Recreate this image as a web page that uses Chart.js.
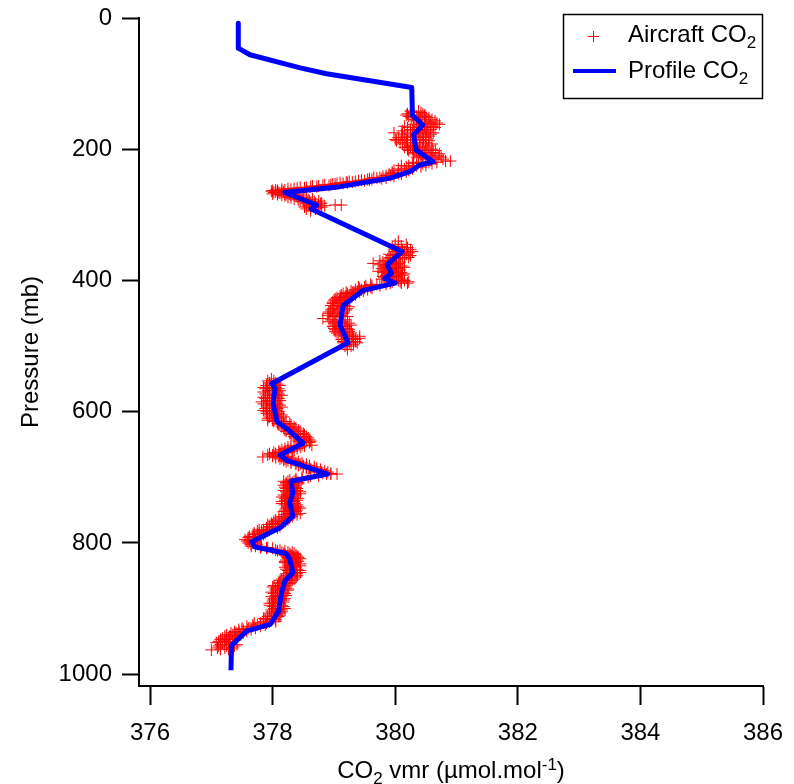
<!DOCTYPE html>
<html>
<head>
<meta charset="utf-8">
<script src="https://cdn.jsdelivr.net/npm/chart.js@4/dist/chart.umd.min.js"></script>
<style>
  html, body { margin: 0; padding: 0; background: #fff; }
</style>
</head>
<body>
<canvas id="co2chart" width="794" height="784"></canvas>
<script>
// retrieved profile: pressure (mb) and CO2 (umol/mol)
const profileP = [8, 46, 56, 76, 85, 95, 106, 148, 163, 178,
    201, 219, 224, 234, 244, 257, 266, 285, 291, 356,
    376, 389, 397, 404, 415, 438, 468, 495, 557, 564,
    587, 615, 628, 648, 666, 674, 695, 706, 724, 739,
    759, 777, 798, 806, 816, 825, 845, 858, 878, 904,
    924, 934, 956, 994];
const profileCO2 = [377.44, 377.44, 377.63, 378.45, 378.88, 379.54, 380.27, 380.28, 380.45, 380.30,
    380.34, 380.62, 380.40, 380.24, 379.92, 379.10, 378.20, 378.72, 378.63, 380.11,
    379.87, 379.94, 379.83, 380.00, 379.48, 379.15, 379.10, 379.23, 377.99, 378.04,
    378.01, 378.07, 378.26, 378.50, 378.12, 378.23, 378.90, 378.30, 378.33, 378.28,
    378.33, 378.12, 377.66, 377.71, 378.22, 378.28, 378.33, 378.20, 378.14, 378.10,
    377.96, 377.58, 377.33, 377.32];

// aircraft samples (first leg), grouped by pressure level (mb)
const ascentP = [142, 146, 150, 155, 160, 165, 170, 175, 180, 185,
    190, 195, 200, 205, 210, 215, 218, 220, 225, 230,
    235, 238, 241, 244, 246, 248, 250, 252, 254, 256,
    258, 260, 262, 264, 266, 268, 270, 273, 276, 279,
    282, 285, 288, 291, 294,
    340, 345, 350, 356, 360, 365, 370, 374, 378, 382,
    386, 390, 394, 398, 402, 406, 410, 414, 418, 422,
    426, 430, 435, 440, 445, 450, 455, 458, 460, 465,
    470, 475, 480, 485, 490, 495, 500, 505,
    550, 556, 560, 565, 570, 575, 580, 585, 590, 595,
    600, 605, 610, 615, 620, 625, 630, 635, 640, 645,
    651, 652, 656, 660, 664, 668, 669, 672, 676, 680,
    684, 688, 692, 695, 698, 702, 706, 710, 715, 720,
    725, 730, 735, 740, 745, 750, 755, 760, 765, 770,
    775, 780, 785, 790, 795, 800, 805, 808, 811, 814,
    818, 822, 826, 830, 835, 840, 845, 850, 855, 860,
    865, 870, 875, 880, 885, 890, 895, 900, 905, 910,
    915, 920, 925, 930, 935, 940, 945, 948, 950, 955,
    960, 963];
const ascentCO2 = [
    [380.25, 380.38], [380.20, 380.45], [380.35, 380.50, 380.22], [380.42, 380.60, 380.30],
    [380.48, 380.55, 380.68, 380.38], [380.40, 380.62, 380.52, 380.15], [380.32, 380.45, 380.58, 380.25],
    [380.20, 380.38, 380.50, 380.62, 379.98], [380.15, 380.28, 380.42, 380.55], [380.12, 380.30, 380.46, 380.00],
    [380.18, 380.35, 380.50, 380.08], [380.25, 380.40, 380.30, 380.55], [380.28, 380.45, 380.20, 380.60],
    [380.32, 380.48, 380.62, 380.40], [380.38, 380.55, 380.70, 380.45], [380.50, 380.65, 380.78, 380.58],
    [380.82, 380.90], [380.55, 380.68, 380.42, 380.30], [380.35, 380.50, 380.22, 380.10],
    [380.15, 380.28, 380.05], [380.05, 379.95, 380.18],
    [379.90, 380.10], [379.80, 379.98], [379.70, 379.85], [379.55, 379.62], [379.40, 379.50],
    [379.30, 379.20], [379.05, 379.15], [378.95, 378.85], [378.75, 378.65],
    [378.55, 378.45], [378.35, 378.25], [378.20, 378.05], [377.98, 378.15, 378.08], [378.02, 378.10, 378.25],
    [378.00, 378.20, 378.35], [378.15, 378.30, 378.45], [378.25, 378.40, 378.55], [378.35, 378.50, 378.65],
    [378.45, 378.60, 378.75],
    [378.55, 378.70, 378.80], [378.60, 378.75, 379.02, 379.12], [378.52, 378.68, 378.80], [378.55, 378.70],
    [378.62],
    [380.05], [380.00, 380.18], [380.05, 380.20], [380.15, 380.28, 379.98], [380.02, 380.18, 379.90],
    [379.92, 380.08, 380.22], [379.85, 380.00, 379.75], [379.64, 379.90, 380.05], [379.82, 379.98, 380.12],
    [379.78, 379.92, 380.05],
    [379.85, 380.00, 379.72], [379.88, 380.05, 380.15], [379.90, 380.02, 379.80], [379.78, 379.92, 380.10],
    [379.95, 380.08, 380.22], [379.85, 379.70, 379.60], [379.60, 379.50, 379.40], [379.45, 379.35, 379.55],
    [379.30, 379.42, 379.20], [379.25, 379.12, 379.35],
    [379.18, 379.05, 379.28], [379.10, 379.22, 379.00], [379.05, 379.15, 378.98], [379.12, 379.00, 379.25],
    [379.08, 378.95, 379.20], [379.02, 379.15, 378.92], [378.98, 379.10, 379.22], [378.82],
    [379.05, 379.18, 378.95], [379.00, 379.12, 379.25],
    [379.08, 379.20, 378.98], [379.10, 379.25, 379.02], [379.15, 379.28, 379.05], [379.18, 379.30, 379.42],
    [379.22, 379.35, 379.12], [379.25, 379.38, 379.15], [379.18, 379.28], [379.22],
    [377.98], [377.95, 378.05], [377.90, 378.02, 378.12], [377.88, 378.00, 378.10], [377.95, 378.08, 377.85],
    [377.92, 378.05, 378.15], [377.88, 377.98, 378.10], [377.95, 378.05, 377.82], [377.90, 378.02, 378.12],
    [377.95, 378.08, 377.88],
    [377.98, 378.10, 377.90], [377.95, 378.05, 378.15], [378.00, 378.12, 377.92], [378.02, 378.15, 378.22],
    [378.10, 378.20, 378.30], [378.18, 378.28, 378.38], [378.22, 378.35, 378.45], [378.30, 378.42, 378.52],
    [378.38, 378.50, 378.58], [378.42, 378.55, 378.62],
    [378.64, 378.48], [378.40, 378.30, 378.52], [378.30, 378.20, 378.40], [378.20, 378.10, 378.32],
    [378.05, 377.95, 378.18], [378.10, 378.22, 378.00], [377.84], [378.20, 378.32, 378.12],
    [378.30, 378.42, 378.22], [378.45, 378.55, 378.38],
    [378.55, 378.68, 378.50], [378.68, 378.78, 378.62], [378.80, 378.90, 378.72], [378.88, 379.05, 378.95],
    [378.75, 378.62], [378.48, 378.38], [378.25, 378.35, 378.18], [378.22, 378.35, 378.42],
    [378.25, 378.38, 378.20], [378.28, 378.40, 378.18],
    [378.25, 378.38, 378.45], [378.22, 378.32, 378.15], [378.20, 378.30, 378.40], [378.22, 378.35, 378.15],
    [378.25, 378.38, 378.42], [378.28, 378.40, 378.20], [378.25, 378.35, 378.45], [378.22, 378.32, 378.15],
    [378.15, 378.25, 378.05], [378.05, 378.15, 377.98],
    [377.95, 378.05, 378.12], [377.85, 377.95, 377.78], [377.78, 377.88, 377.70], [377.70, 377.80, 377.62],
    [377.62, 377.72, 377.55], [377.60, 377.70, 377.68], [377.72, 377.82, 377.65], [377.90, 378.00],
    [378.05, 378.12], [378.15, 378.25, 378.32],
    [378.20, 378.30, 378.38], [378.25, 378.35, 378.42], [378.22, 378.30, 378.40], [378.28, 378.38, 378.20],
    [378.25, 378.35, 378.45], [378.30, 378.40, 378.22], [378.28, 378.38, 378.45], [378.22, 378.32, 378.40],
    [378.15, 378.25, 378.35], [378.12, 378.22, 378.30],
    [378.10, 378.20, 378.02], [378.05, 378.15, 378.25], [378.08, 378.18, 377.98], [378.05, 378.15, 378.22],
    [378.02, 378.12, 378.20], [378.00, 378.10, 378.18], [378.05, 378.15, 377.95], [378.02, 378.12, 378.20],
    [377.98, 378.08, 378.15], [377.95, 378.05, 378.12],
    [377.92, 378.02, 377.85], [377.85, 377.95, 378.05], [377.75, 377.88, 377.68], [377.60, 377.72, 377.50],
    [377.45, 377.58, 377.38], [377.35, 377.48, 377.25], [377.28, 377.40, 377.18], [377.22],
    [377.22, 377.35, 377.12], [377.15, 377.30, 377.42],
    [377.10, 377.22, 377.35], [377.00]
];

// aircraft samples (second leg)
const descentP = [144, 148, 152, 157, 162, 167, 172, 177, 182, 187,
    192, 197, 202, 207, 212, 222, 227, 232,
    237, 240, 243, 245, 247, 249, 251, 253, 255, 257,
    259, 261, 263, 265, 267, 269, 271, 274, 277, 280,
    283, 286, 289,
    348, 353, 358, 362, 367, 372, 376, 380, 384, 388,
    392, 396, 400, 404, 408, 412, 416, 420, 424, 428,
    433, 438, 443, 448, 453, 463, 468, 473, 478, 483,
    488, 493, 498,
    553, 558, 563, 568, 573, 578, 583, 588, 593, 598,
    603, 608, 613, 618, 623, 628, 633, 638, 643, 647,
    654, 658, 662, 666, 670, 674, 678, 682, 686, 690,
    694, 700, 704, 708, 712, 717, 722, 727, 732, 737,
    742, 747, 752, 757, 762, 767, 772, 777, 782, 787,
    792, 797, 802, 807, 812, 816, 820, 824, 828, 832,
    837, 842, 847, 852, 857, 862, 867, 872, 877, 882,
    887, 892, 897, 902, 907, 912, 917, 922, 927, 932,
    937, 942, 947, 952, 957, 962];
const descentCO2 = [
    [380.30, 380.42], [380.28, 380.48, 380.18], [380.40, 380.55, 380.26], [380.35, 380.50, 380.65],
    [380.42, 380.58, 380.72, 380.30], [380.35, 380.48, 380.65, 380.20], [380.28, 380.40, 380.52, 380.12],
    [380.10, 380.25, 380.45, 380.58], [380.05, 380.20, 380.35, 380.50], [380.02, 380.18, 380.40, 380.55],
    [380.12, 380.28, 380.45, 380.60], [380.20, 380.35, 380.50, 380.15], [380.22, 380.38, 380.52, 380.66],
    [380.30, 380.42, 380.58, 380.72], [380.45, 380.60, 380.75, 380.35], [380.45, 380.60, 380.28],
    [380.30, 380.42, 380.18], [380.10, 380.22, 379.98],
    [379.95, 380.05], [379.85, 379.92], [379.75, 379.65], [379.58, 379.78], [379.45, 379.58],
    [379.35, 379.25], [379.10, 379.22], [378.98, 379.02], [378.82, 378.92], [378.62, 378.72],
    [378.40, 378.52], [378.30, 378.15], [378.08, 378.00], [378.05, 378.18], [378.12, 378.28],
    [378.08, 378.22], [378.20, 378.38], [378.30, 378.48], [378.42, 378.58], [378.50, 378.68],
    [378.62, 378.78], [378.58, 378.85], [378.62, 378.75],
    [380.10, 379.95], [380.12, 380.25, 380.00], [380.08, 380.22], [379.95, 380.12, 380.25],
    [379.88, 380.02, 380.15], [379.80, 379.95, 380.08], [379.75, 379.88, 380.02], [379.85, 380.00, 380.15],
    [379.82, 379.95, 380.08], [379.80, 379.95, 380.10],
    [379.85, 379.98, 380.12], [379.82, 379.95, 380.05], [379.90, 380.05, 380.15], [379.92, 380.10, 380.20],
    [379.75, 379.62, 379.52], [379.50, 379.42, 379.62], [379.38, 379.28, 379.48], [379.22, 379.32, 379.15],
    [379.20, 379.10, 379.30], [379.12, 379.02, 379.25],
    [379.08, 378.98, 379.18], [379.05, 379.18, 378.95], [379.10, 378.98, 379.22], [379.05, 378.92, 379.15],
    [379.00, 379.12, 378.90], [379.02, 379.15, 378.92], [379.05, 379.18, 379.28], [379.10, 379.22, 379.00],
    [379.12, 379.25, 379.02], [379.18, 379.30, 379.08],
    [379.20, 379.32, 379.42], [379.25, 379.35, 379.15], [379.20, 379.32],
    [377.92, 378.02], [377.98, 378.08], [377.95, 378.05, 377.85], [377.92, 378.02, 378.12],
    [377.88, 378.00, 378.10], [377.95, 378.08, 377.85], [377.92, 378.02, 378.12], [377.85, 377.98, 378.08],
    [377.92, 378.05, 378.15], [377.95, 378.05, 377.85],
    [377.98, 378.10, 377.90], [377.95, 378.08, 378.18], [378.00, 378.10, 377.92], [378.08, 378.18, 378.28],
    [378.15, 378.25, 378.35], [378.20, 378.32, 378.42], [378.28, 378.40, 378.50], [378.35, 378.45, 378.55],
    [378.42, 378.52, 378.60], [378.50, 378.60],
    [378.35, 378.25, 378.45], [378.25, 378.15, 378.35], [378.12, 378.02, 378.25], [378.00, 378.12, 377.92],
    [378.15, 378.25, 378.05], [378.25, 378.35, 378.18], [378.38, 378.48, 378.30], [378.50, 378.60, 378.42],
    [378.60, 378.72, 378.55], [378.72, 378.85, 378.68],
    [378.82, 378.95], [378.58, 378.48], [378.38, 378.28], [378.22, 378.32, 378.42], [378.25, 378.38, 378.18],
    [378.28, 378.40, 378.22], [378.22, 378.35, 378.45], [378.25, 378.38, 378.18], [378.20, 378.30, 378.42],
    [378.25, 378.35, 378.15],
    [378.28, 378.40, 378.20], [378.22, 378.35, 378.45], [378.25, 378.38, 378.18], [378.28, 378.40, 378.20],
    [378.18, 378.28, 378.10], [378.10, 378.20, 378.02], [378.00, 378.10, 377.92], [377.90, 378.00, 378.08],
    [377.82, 377.92, 377.75], [377.75, 377.85, 377.68],
    [377.68, 377.78, 377.60], [377.62, 377.72, 377.58], [377.65, 377.75], [377.80, 377.92], [378.08, 378.20],
    [378.18, 378.28, 378.35], [378.22, 378.32, 378.40], [378.25, 378.35, 378.45], [378.20, 378.32, 378.42],
    [378.25, 378.35, 378.45],
    [378.28, 378.38, 378.20], [378.25, 378.35, 378.45], [378.22, 378.32, 378.40], [378.18, 378.28, 378.38],
    [378.12, 378.22, 378.32], [378.10, 378.20, 378.28], [378.08, 378.18, 378.00], [378.05, 378.15, 378.25],
    [378.02, 378.12, 378.20], [378.05, 378.15, 377.98],
    [378.00, 378.10, 378.18], [378.02, 378.12, 377.95], [378.00, 378.10, 378.18], [377.98, 378.08, 378.15],
    [377.95, 378.05, 378.12], [377.92, 378.02, 378.10], [377.88, 377.98, 378.05], [377.80, 377.90, 377.70],
    [377.68, 377.80, 377.58], [377.52, 377.65, 377.45],
    [377.40, 377.52, 377.32], [377.30, 377.42, 377.22], [377.25, 377.38, 377.15], [377.18, 377.30, 377.08],
    [377.12, 377.25, 377.38], [377.15, 377.28]
];

const xTicks = [376, 378, 380, 382, 384, 386];
const yTicks = [0, 200, 400, 600, 800, 1000];
const legendRows = [['Aircraft CO', '2'], ['Profile CO', '2']];
const xTitle = [['CO', 0], ['2', 1], [' vmr (\u00b5mol.mol', 0], ['-1', -1], [')', 0]];

const FONT = "'Liberation Sans', Arial, Helvetica, sans-serif";

let aircraftPoints = [];
const addLeg = function(levels, values) {
    levels.forEach(function(p, i) {
        values[i].forEach(function(v) { aircraftPoints.push({ x: v, y: p }); });
    });
}
addLeg(ascentP, ascentCO2);
addLeg(descentP, descentCO2);
let profilePoints = profileP.map(function(p, i) { return { x: profileCO2[i], y: p }; });

// draws a line of text where some bits are sub (1) or superscript (-1)
const drawParts = function(ctx, parts, x, y, align) {
    const big = '24px ' + FONT, small = '17px ' + FONT;
    let w = 0;
    parts.forEach(function(pt) {
        ctx.font = pt[1] === 0 ? big : small;
        w += ctx.measureText(pt[0]).width;
    });
    let cx = align === 'center' ? x - w / 2 : x;
    ctx.textAlign = 'left';
    ctx.textBaseline = 'alphabetic';
    parts.forEach(function(pt) {
        ctx.font = pt[1] === 0 ? big : small;
        let dy = pt[1] === 1 ? 6 : (pt[1] === -1 ? -8 : 0);
        ctx.fillText(pt[0], cx, y + dy);
        cx += ctx.measureText(pt[0]).width;
    });
}

const extras = {
    id: 'extras',
    afterDraw: function(chart) {
        const ctx = chart.ctx;
        const ds = chart.data.datasets;
        ctx.save();
        // legend box
        ctx.strokeStyle = '#000';
        ctx.lineWidth = 1.5;
        ctx.strokeRect(563.5, 14.5, 199, 84);
        // cross marker
        ctx.strokeStyle = ds[0].borderColor;
        ctx.lineWidth = 1;
        ctx.beginPath();
        ctx.moveTo(588, 36.5); ctx.lineTo(599, 36.5);
        ctx.moveTo(593.5, 31); ctx.lineTo(593.5, 42);
        ctx.stroke();
        // line marker
        ctx.strokeStyle = ds[1].borderColor;
        ctx.lineWidth = 4;
        ctx.beginPath();
        ctx.moveTo(573, 71); ctx.lineTo(616, 71);
        ctx.stroke();
        ctx.fillStyle = '#000';
        drawParts(ctx, [[legendRows[0][0], 0], [legendRows[0][1], 1]], 628, 42, 'left');
        drawParts(ctx, [[legendRows[1][0], 0], [legendRows[1][1], 1]], 628, 78, 'left');
        // x axis title
        const a = chart.chartArea;
        drawParts(ctx, xTitle, (a.left + a.right) / 2, 778, 'center');
        ctx.restore();
    }
};

const ctx = document.getElementById('co2chart').getContext('2d');
const myChart = new Chart(ctx, {
    type: 'scatter',
    data: {
        datasets: [{
            label: 'Aircraft CO\u2082',
            data: aircraftPoints,
            pointStyle: 'cross',
            pointRadius: 6,
            borderColor: '#ff0000',
            borderWidth: 1,
            order: 2
        }, {
            label: 'Profile CO\u2082',
            data: profilePoints,
            showLine: true,
            borderColor: '#0000ff',
            borderWidth: 5,
            borderJoinStyle: 'round',
            pointRadius: 0,
            tension: 0,
            order: 1
        }]
    },
    options: {
        responsive: false,
        animation: false,
        devicePixelRatio: 1,
        layout: { padding: { left: 0, top: 18, right: 31, bottom: 0 } },
        plugins: { legend: { display: false }, tooltip: { enabled: false } },
        scales: {
            x: {
                type: 'linear',
                position: 'bottom',
                min: 375.82,
                max: 386,
                afterBuildTicks: function(s) { s.ticks = xTicks.map(function(v) { return { value: v }; }); },
                afterFit: function(s) { s.height = 98; s.paddingLeft = 0; s.paddingRight = 0; },
                ticks: { color: '#000', font: { family: FONT, size: 24 }, padding: 14, maxRotation: 0, autoSkip: false,
                    callback: function(v) { return String(v); } },
                grid: { display: true, drawOnChartArea: false, drawTicks: true, tickLength: 19, tickWidth: 2, tickColor: '#000' },
                border: { display: true, color: '#000', width: 2 }
            },
            y: {
                type: 'linear',
                position: 'left',
                reverse: true,
                min: 0,
                max: 1018,
                afterBuildTicks: function(s) { s.ticks = yTicks.map(function(v) { return { value: v }; }); },
                afterFit: function(s) { s.width = 139; s.paddingTop = 0; s.paddingBottom = 0; },
                ticks: { color: '#000', font: { family: FONT, size: 24 }, padding: 10, autoSkip: false,
                    callback: function(v) { return String(v); } },
                grid: { display: true, drawOnChartArea: false, drawTicks: true, tickLength: 17, tickWidth: 2, tickColor: '#000' },
                border: { display: true, color: '#000', width: 2 },
                title: { display: true, text: 'Pressure (mb)', color: '#000', font: { family: FONT, size: 24 }, padding: { top: 17, bottom: 0 } }
            }
        }
    },
    plugins: [extras]
});
</script>
</body>
</html>
